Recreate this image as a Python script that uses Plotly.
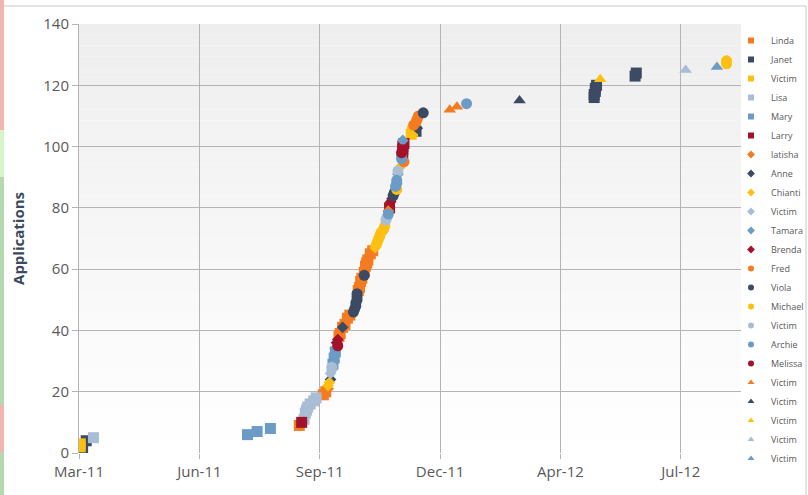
import plotly.graph_objects as go

# ---------------- data ----------------
series_names = ["Linda", "Janet", "Victim", "Lisa", "Mary", "Larry",
                "latisha", "Anne", "Chianti", "Victim", "Tamara", "Brenda",
                "Fred", "Viola", "Michael", "Victim", "Archie", "Melissa",
                "Victim", "Victim", "Victim", "Victim", "Victim"]

linda_dates = ["2011-03-03", "2011-08-31", "2011-09-20", "2011-09-22", "2011-10-03", "2011-10-04",
               "2011-10-06", "2011-10-08", "2011-10-10", "2011-10-12", "2011-10-19", "2011-10-20",
               "2011-10-21", "2011-10-22", "2011-10-24", "2011-10-25", "2011-10-26", "2011-10-27",
               "2011-10-29", "2011-10-31"]
linda_apps = [0, 9, 19, 20, 38, 39, 41, 42, 44, 45, 53, 54, 56, 57, 59, 61, 62, 63, 65, 66]

janet_dates = ["2011-03-04", "2011-03-07", "2011-12-06", "2012-05-02", "2012-05-02", "2012-05-03",
               "2012-05-03", "2012-05-04", "2012-06-05", "2012-06-06"]
janet_apps = [1, 4, 105, 116, 117, 118, 119, 120, 123, 124]

victim_sq_dates = ["2011-03-02", "2011-03-02", "2011-12-02", "2011-12-03"]
victim_sq_apps = [2, 3, 104, 105]

lisa_dates = ["2011-03-13", "2011-09-04", "2011-09-05", "2011-09-06", "2011-09-07", "2011-09-09",
              "2011-09-12", "2011-09-14"]
lisa_apps = [5, 11, 13, 14, 15, 16, 17, 18]

mary_dates = ["2011-07-19", "2011-07-27", "2011-08-07", "2011-09-28", "2011-09-29", "2011-09-30"]
mary_apps = [6, 7, 8, 29, 31, 33]

larry_dates = ["2011-09-02", "2011-11-14", "2011-11-25", "2011-11-25", "2011-11-25", "2011-11-26"]
larry_apps = [10, 80, 98, 99, 100, 101]

latisha_dates = ["2011-09-24", "2011-10-27", "2011-11-13"]
latisha_apps = [21, 64, 79]

anne_dates = ["2011-09-26", "2011-10-06", "2011-11-16", "2011-12-07"]
anne_apps = [24, 41, 83, 106]

chianti_dates = ["2011-09-24", "2011-09-25", "2011-11-02", "2011-11-22"]
chianti_apps = [22, 23, 67, 93]

victim_dia_dates = ["2011-09-26", "2011-09-27"]
victim_dia_apps = [26, 27]

tamara_dates = ["2011-09-29", "2011-09-30", "2011-11-21", "2011-11-25"]
tamara_apps = [30, 34, 91, 102]

brenda_dates = ["2011-10-01", "2011-10-02", "2011-11-15"]
brenda_apps = [36, 37, 82]

fred_dates = ["2011-11-26", "2011-12-04", "2011-12-06", "2011-12-07", "2011-12-08"]
fred_apps = [95, 107, 108, 109, 110]

viola_dates = ["2011-10-15", "2011-10-16", "2011-10-17", "2011-10-17", "2011-10-18", "2011-10-18",
               "2011-10-18", "2011-10-24", "2011-11-17", "2011-11-18", "2011-12-12"]
viola_apps = [46, 47, 48, 49, 50, 51, 52, 58, 84, 85, 111]

michael_dates = ["2011-11-03", "2011-11-04", "2011-11-05", "2011-11-06", "2011-11-07", "2011-11-09",
                 "2011-11-10", "2011-11-20", "2012-08-20", "2012-08-20"]
michael_apps = [68, 69, 70, 71, 72, 73, 74, 86, 127, 128]

victim_circ_dates = ["2011-09-27", "2011-11-11", "2011-11-12", "2011-11-21"]
victim_circ_apps = [28, 76, 77, 92]

archie_dates = ["2011-11-13", "2011-11-19", "2011-11-20", "2011-11-20", "2011-11-24", "2011-11-24",
                "2012-01-17"]
archie_apps = [78, 87, 88, 89, 96, 97, 114]

melissa_dates = ["2011-10-02", "2011-11-24", "2011-11-25"]
melissa_apps = [35, 98, 99]

victim_tri1_dates = ["2012-01-03", "2012-01-09"]
victim_tri1_apps = [112, 113]
victim_tri2_dates = ["2012-03-01"]
victim_tri2_apps = [115]
victim_tri3_dates = ["2012-05-07"]
victim_tri3_apps = [122]
victim_tri4_dates = ["2012-07-17"]
victim_tri4_apps = [125]
victim_tri5_dates = ["2012-08-12"]
victim_tri5_apps = [126]

x_tick_dates = ["2011-03-01", "2011-06-09", "2011-09-17", "2011-12-26", "2012-04-04", "2012-07-13"]
x_range = ["2011-03-01", "2012-09-01"]
y_ticks = [0, 20, 40, 60, 80, 100, 120, 140]

# ---------------- styles ----------------
ORANGE = "#f47b20"
DARK = "#3c4b63"
GOLD = "#fdc012"
LIGHT = "#a9bdd4"
STEEL = "#6c9bc6"
CRIMSON = "#a3122b"

all_dates = [linda_dates, janet_dates, victim_sq_dates, lisa_dates, mary_dates, larry_dates,
             latisha_dates, anne_dates, chianti_dates, victim_dia_dates, tamara_dates, brenda_dates,
             fred_dates, viola_dates, michael_dates, victim_circ_dates, archie_dates, melissa_dates,
             victim_tri1_dates, victim_tri2_dates, victim_tri3_dates, victim_tri4_dates, victim_tri5_dates]
all_apps = [linda_apps, janet_apps, victim_sq_apps, lisa_apps, mary_apps, larry_apps,
            latisha_apps, anne_apps, chianti_apps, victim_dia_apps, tamara_apps, brenda_apps,
            fred_apps, viola_apps, michael_apps, victim_circ_apps, archie_apps, melissa_apps,
            victim_tri1_apps, victim_tri2_apps, victim_tri3_apps, victim_tri4_apps, victim_tri5_apps]
palette = [ORANGE, DARK, GOLD, LIGHT, STEEL, CRIMSON]
symbols = ["square"] * 6 + ["diamond"] * 6 + ["circle"] * 6 + ["triangle-up"] * 5
colors = palette * 3 + [ORANGE, DARK, GOLD, LIGHT, STEEL]
sizes = {"square": 11, "diamond": 9, "circle": 11, "triangle-up": 11}
legend_size = 6

W, H = 808, 495
ML, MR, MT, MB = 79, 67, 24, 42
PW, PH = W - ML - MR, H - MT - MB


def px_x(p):
    return (p - ML) / PW


def px_y(p):
    return (H - MB - p) / PH


fig = go.Figure()
for i, name in enumerate(series_names):
    fig.add_trace(go.Scatter(
        x=all_dates[i], y=all_apps[i], mode="markers", name=name,
        legendgroup=f"g{i}", showlegend=False,
        marker=dict(symbol=symbols[i], color=colors[i], size=sizes[symbols[i]], line=dict(width=0)),
    ))
# legend entries with small symbols
for i, name in enumerate(series_names):
    fig.add_trace(go.Scatter(
        x=[None], y=[None], mode="markers", name=name, legendgroup=f"g{i}", showlegend=True,
        marker=dict(symbol=symbols[i], color=colors[i], size=legend_size, line=dict(width=0)),
    ))

# gradient background for the plot area (grey at top, white at bottom)
shapes = []
n_bands = 40
for k in range(n_bands):
    c = int(round(0xee + (0xff - 0xee) * ((k + 0.5) / n_bands)))
    shapes.append(dict(type="rect", xref="paper", yref="paper", x0=0, x1=1,
                       y0=1 - (k + 1) / n_bands, y1=1 - k / n_bands,
                       fillcolor=f"rgb({c},{c},{c})", line=dict(width=0), layer="below"))
# spreadsheet strip at the left edge
strip = [(0, 130, "#f4b4b4"), (130, 177, "#d6f5c8"), (177, 405, "#b6d8b0"),
         (405, 452, "#f4b4b4"), (452, 495, "#b6d8b0")]
for y0, y1, col in strip:
    shapes.append(dict(type="rect", xref="paper", yref="paper",
                       x0=px_x(0), x1=px_x(4), y0=px_y(y1), y1=px_y(y0),
                       fillcolor=col, line=dict(width=0), layer="above"))
# chart frame lines
shapes.append(dict(type="line", xref="paper", yref="paper", x0=px_x(4), x1=px_x(806),
                   y0=px_y(6), y1=px_y(6), line=dict(color="#c8c8c8", width=1)))
shapes.append(dict(type="line", xref="paper", yref="paper", x0=px_x(806), x1=px_x(806),
                   y0=px_y(495), y1=px_y(6), line=dict(color="#c8c8c8", width=1)))

fig.update_layout(
    width=W, height=H,
    margin=dict(l=ML, r=MR, t=MT, b=MB, autoexpand=False),
    paper_bgcolor="white", plot_bgcolor="white",
    font=dict(family="Open Sans, sans-serif", color="#595959"),
    shapes=shapes,
    showlegend=True,
    legend=dict(x=px_x(731), xanchor="left", y=px_y(26), yanchor="top",
                font=dict(size=9, color="#595959"), itemwidth=30, maxheight=470,
                bgcolor="rgba(0,0,0,0)", tracegroupgap=0),
    xaxis=dict(type="date", range=x_range, tickvals=x_tick_dates, tickformat="%b-%y",
               showgrid=True, gridcolor="#b4b4b4", gridwidth=1,
               ticks="outside", ticklen=5, tickcolor="#b4b4b4",
               tickfont=dict(size=15, color="#595959"), zeroline=False, showline=False),
    yaxis=dict(range=[0, 140], tickvals=y_ticks, showgrid=True, gridcolor="#b4b4b4", gridwidth=1,
               ticks="outside", ticklen=6, tickcolor="#b4b4b4",
               tickfont=dict(size=15, color="#595959"), zeroline=False,
               showline=True, linecolor="#b4b4b4",
               title=dict(text="<b>Applications</b>", font=dict(size=15, color="#3b4a60"), standoff=15)),
)

fig.write_html("out.html", config={"displayModeBar": False},
               post_script="document.body.style.margin='0px';")
